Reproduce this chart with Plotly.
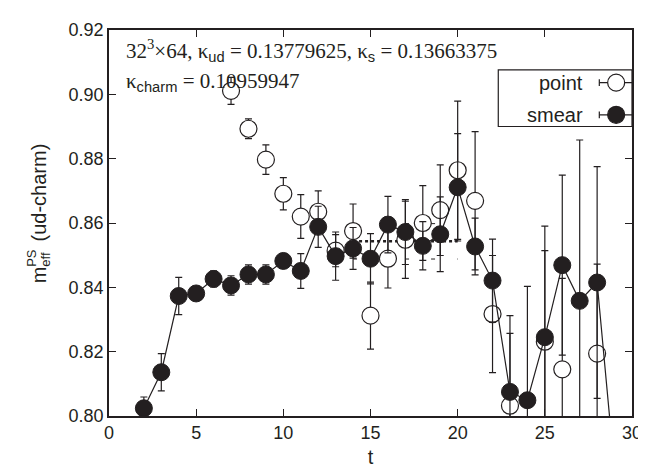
import plotly.graph_objects as go

# ---- data ----
t_smear = [2, 3, 4, 5, 6, 7, 8, 9, 10, 11, 12, 13, 14, 15, 16, 17, 18, 19, 20, 21, 22, 23, 24, 25, 26, 27, 28, 29]
m_smear = [0.8024, 0.8136, 0.8373, 0.8381, 0.8426, 0.8406, 0.8440, 0.8440, 0.8482, 0.8451,
           0.8588, 0.8497, 0.8521, 0.8489, 0.8595, 0.8572, 0.8529, 0.8565, 0.8711, 0.8527,
           0.8421, 0.8075, 0.8049, 0.8245, 0.8469, 0.8358, 0.8415, 0.7830]
e_smear = [0.0035, 0.0058, 0.0058, 0.0022, 0.0025, 0.0030, 0.0030, 0.0030, 0.0022, 0.0054,
           0.0064, 0.0075, 0.0065, 0.0078, 0.0088, 0.0101, 0.0075, 0.0116, 0.0167, 0.0088,
           0.0129, 0.0237, 0.0354, 0.0345, 0.0280, 0.0500, 0.0360, 0.0120]

t_point = [7, 8, 9, 10, 11, 12, 13, 14, 15, 16, 17, 18, 19, 20, 21, 22, 23, 24, 25, 26, 27, 28]
m_point = [0.9011, 0.8893, 0.8797, 0.8691, 0.8620, 0.8635, 0.8514, 0.8575, 0.8312, 0.8489,
           0.8548, 0.8600, 0.8640, 0.8764, 0.8669, 0.8317, 0.8032, None, 0.8231, 0.8145,
           None, 0.8194]
e_point = [0.0042, 0.0031, 0.0046, 0.0050, 0.0068, 0.0065, 0.0050, 0.0084, 0.0104, 0.0091,
           0.0120, 0.0116, 0.0141, 0.0215, 0.0215, 0.0182, 0.0225, None, 0.0283, 0.0283,
           None, 0.0278]

fit_range = [14, 20]
fit_value = 0.8543
fit_error = 0.0055

x_ticks = [0, 5, 10, 15, 20, 25, 30]
y_ticks = [0.80, 0.82, 0.84, 0.86, 0.88, 0.90, 0.92]

INK = "#231f20"
SANS = "Liberation Sans, Arial, sans-serif"
SERIF = "Liberation Serif, Times New Roman, serif"

fig = go.Figure()

# fit band and central value
for yv, w, d in [(fit_value + fit_error, 1, "4px,22px"), (fit_value - fit_error, 1, "4px,22px"),
                 (fit_value, 2.5, "dot")]:
    fig.add_trace(go.Scatter(x=fit_range, y=[yv, yv], mode="lines",
                             line=dict(color=INK, width=w, dash=d), hoverinfo="skip"))

# point source (open circles)
fig.add_trace(go.Scatter(
    x=t_point, y=m_point, mode="markers", name="point",
    marker=dict(symbol="circle", size=17, color="white", line=dict(color=INK, width=1.2)),
    error_y=dict(type="data", array=e_point, visible=True, color=INK, thickness=1.2, width=3.5),
))

# smeared source (filled circles, joined)
fig.add_trace(go.Scatter(
    x=t_smear, y=m_smear, mode="lines+markers", name="smear",
    line=dict(color=INK, width=1.2),
    marker=dict(symbol="circle", size=17, color=INK, line=dict(color=INK, width=1)),
    error_y=dict(type="data", array=e_smear, visible=True, color=INK, thickness=1.2, width=3.5),
))

# ---- plot-area geometry (pixels) for paper-coord helpers ----
L, R, T, B = 101, 629, 12, 408
def px(x):
    return (x - L) / (R - L)
def py(y):
    return (B - y) / (B - T)

shapes = []
annotations = []

# legend box
shapes.append(dict(type="rect", xref="paper", yref="paper", x0=px(494), x1=px(629),
                   y0=py(111), y1=py(53), line=dict(color=INK, width=1.2), fillcolor="white",
                   layer="above"))
for label, yc, filled in [("point", 66, False), ("smear", 99, True)]:
    annotations.append(dict(xref="paper", yref="paper", x=px(582), y=py(yc), xanchor="right",
                            yanchor="middle", text=label, showarrow=False,
                            font=dict(family=SANS, size=20, color=INK)))
    shapes.append(dict(type="line", xref="paper", yref="paper", x0=px(596), x1=px(630),
                       y0=py(yc), y1=py(yc), line=dict(color=INK, width=1.2), layer="above"))
    for xe in (596, 630):
        shapes.append(dict(type="line", xref="paper", yref="paper", x0=px(xe), x1=px(xe),
                           y0=py(yc - 3.5), y1=py(yc + 3.5), line=dict(color=INK, width=1.2),
                           layer="above"))
    shapes.append(dict(type="circle", xref="paper", yref="paper", xsizemode="pixel",
                       ysizemode="pixel", xanchor=px(613), yanchor=py(yc),
                       x0=-8.5, x1=8.5, y0=-8.5, y1=8.5,
                       fillcolor=INK if filled else "white", line=dict(color=INK, width=1.2),
                       layer="above"))

sub = "<sub><span style='font-family:Liberation Sans'>%s</span></sub>"
annotations.append(dict(xref="paper", yref="paper", x=px(116), y=py(33), xanchor="left",
                        yanchor="middle", showarrow=False,
                        text="32<sup>3</sup>×64, κ" + sub % "ud" + " = 0.13779625, κ" + sub % "s"
                             + " = 0.13663375",
                        font=dict(family=SERIF, size=21, color=INK)))
annotations.append(dict(xref="paper", yref="paper", x=px(116), y=py(65), xanchor="left",
                        yanchor="middle", showarrow=False,
                        text="κ" + sub % "charm" + " = 0.10959947",
                        font=dict(family=SERIF, size=21, color=INK)))

# y-axis title with stacked super/subscript
for txt, xc, yc, fs in [("m", 30, 263, 20), ("PS", 22, 246, 13), ("eff", 36, 247, 13),
                        ("(ud-charm)", 30, 179, 20)]:
    annotations.append(dict(xref="paper", yref="paper", x=px(xc), y=py(yc), xanchor="center",
                            yanchor="middle", showarrow=False, textangle=-90, text=txt,
                            font=dict(family=SANS, size=fs, color=INK)))

fig.update_layout(
    width=646, height=470,
    margin=dict(l=L, r=646 - R, t=T, b=470 - B),
    paper_bgcolor="white", plot_bgcolor="white",
    showlegend=False,
    shapes=shapes, annotations=annotations,
    font=dict(family=SANS, color=INK),
)
fig.update_xaxes(range=[0, 30], tickvals=x_ticks, ticks="inside", ticklen=7, tickwidth=1.2,
                 tickcolor=INK, showline=True, linecolor=INK, linewidth=1.5, mirror="ticks",
                 showgrid=False, zeroline=False, tickfont=dict(family=SANS, size=18, color=INK),
                 title=dict(text="t", font=dict(family=SANS, size=20, color=INK), standoff=8))
fig.update_yaxes(range=[0.80, 0.92], tickvals=y_ticks, tickformat=".2f", ticks="inside",
                 ticklen=7, tickwidth=1.2, tickcolor=INK, showline=True, linecolor=INK,
                 linewidth=1.5, mirror="ticks", showgrid=False, zeroline=False,
                 tickfont=dict(family=SANS, size=18, color=INK))

fig.write_html("out.html")
